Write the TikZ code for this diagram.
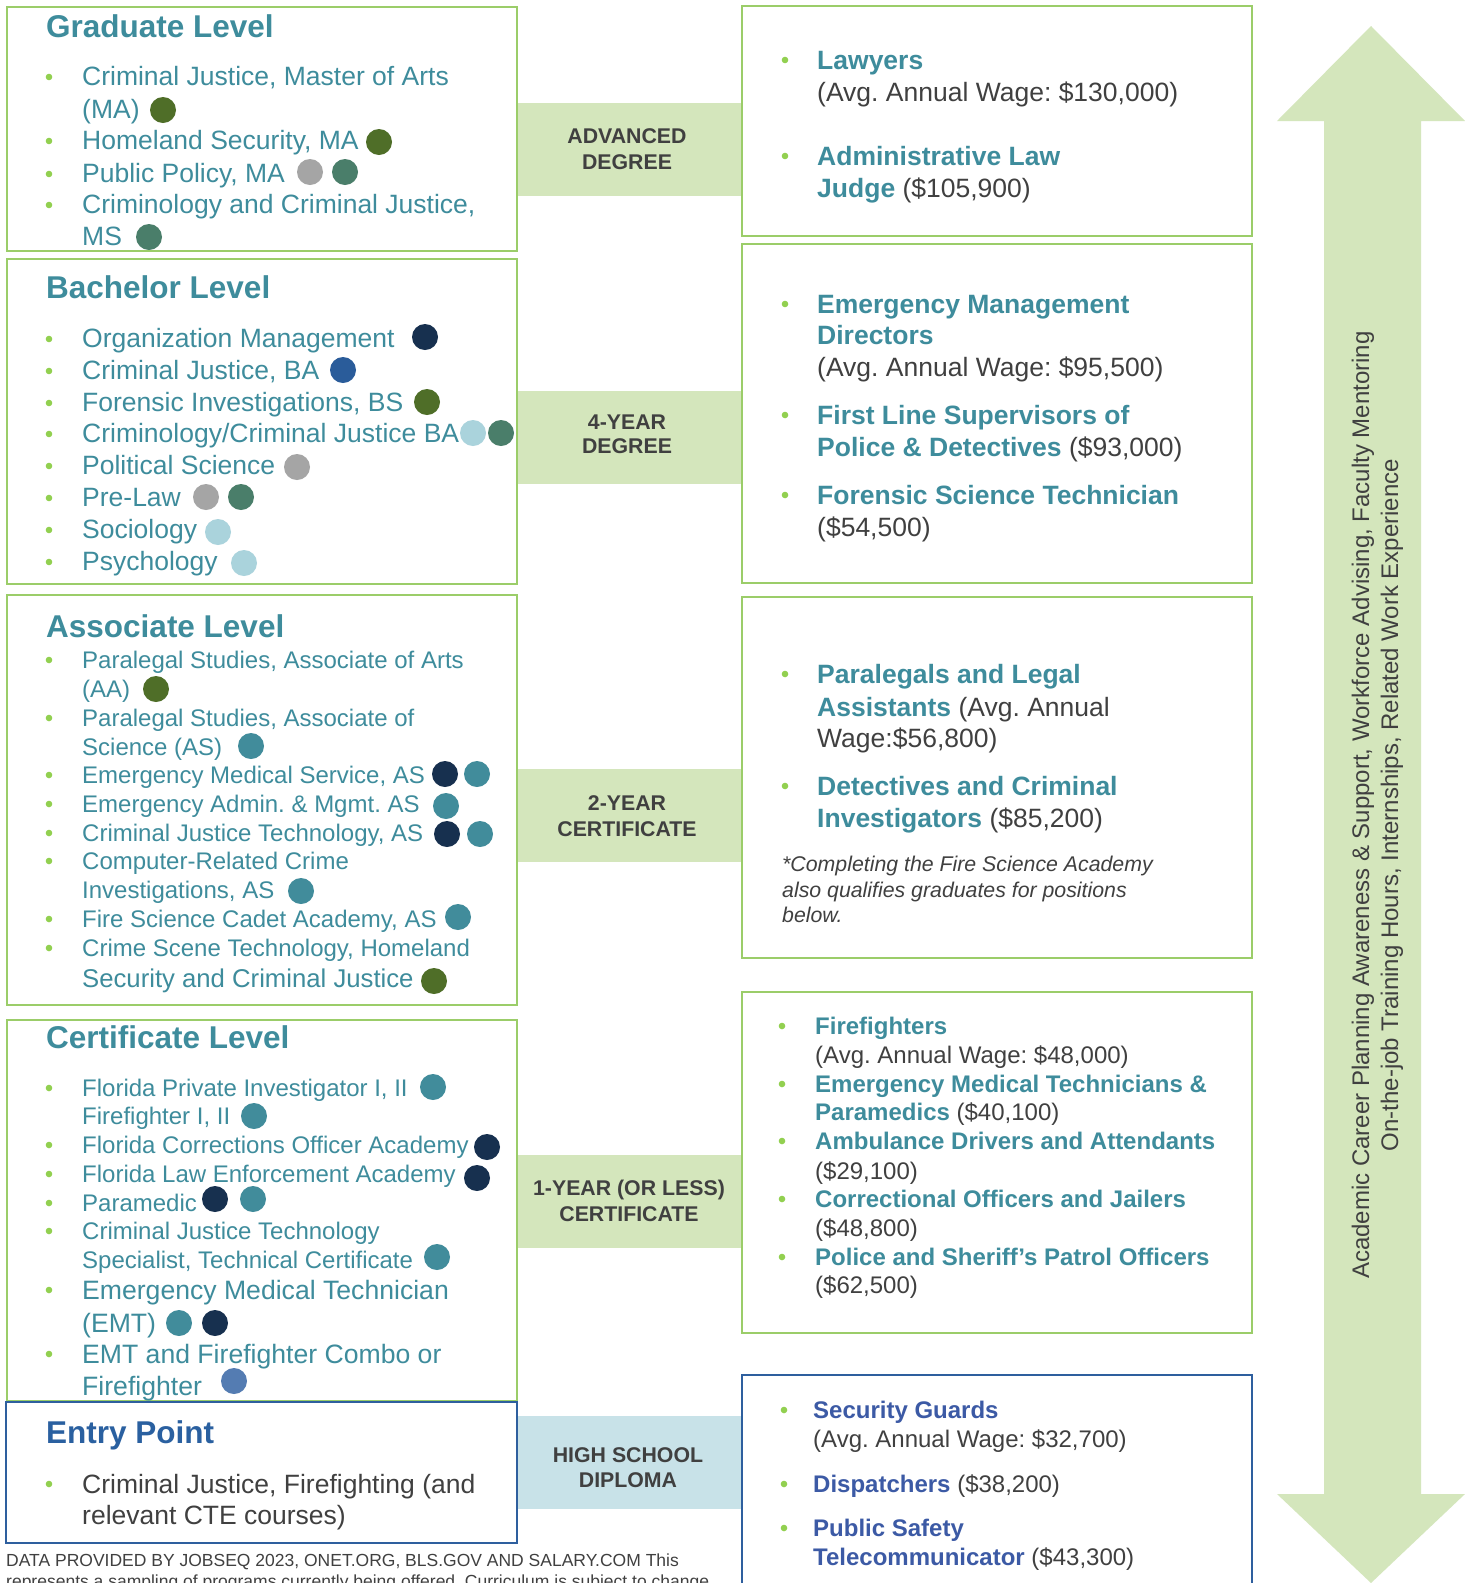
\documentclass[tikz,border=0pt]{standalone}
\usepackage{fontspec}
\setmainfont{Liberation Sans}
\frenchspacing
\definecolor{tealc}{RGB}{62,140,156}
\definecolor{boxgreen}{RGB}{155,205,105}
\definecolor{bulgreen}{RGB}{146,208,80}
\definecolor{bandgreen}{RGB}{212,230,188}
\definecolor{bandblue}{RGB}{200,226,232}
\definecolor{boxblue}{RGB}{46,95,158}
\definecolor{entryblue}{RGB}{42,96,160}
\definecolor{sgblue}{RGB}{60,90,165}
\definecolor{dgray}{RGB}{64,64,64}
\definecolor{dolive}{RGB}{79,110,40}
\definecolor{dgrey}{RGB}{165,165,165}
\definecolor{dtgreen}{RGB}{74,126,106}
\definecolor{dnavy}{RGB}{23,48,79}
\definecolor{dblue}{RGB}{42,92,154}
\definecolor{dlblue}{RGB}{170,211,220}
\definecolor{dteal}{RGB}{65,140,155}
\definecolor{dmblue}{RGB}{84,124,178}
\newcommand\fsz[1]{\fontsize{#1}{#1}\selectfont\frenchspacing}
\newcounter{tn}
\newcommand\pline[4]{\stepcounter{tn}\node[#3] (t\arabic{tn}) at (#1,#2) {#4};}
\newcommand\pbul[2]{\fill[bulgreen] (#1,#2) circle (3.3pt);}
\newcommand\pdot[3]{\fill[#1] (#2,#3) circle (13pt);}
\newcommand\tb[1]{{\bfseries\color{tealc}#1}}
\newcommand\bb[1]{{\bfseries\color{sgblue}#1}}
\begin{document}
\begin{tikzpicture}[x=1pt,y=-1pt,
  gbox/.style={draw=boxgreen,line width=2pt,fill=white,anchor=north west,inner sep=0pt,outer sep=0pt},
  bbox/.style={draw=boxblue,line width=2pt,fill=white,anchor=north west,inner sep=0pt,outer sep=0pt},
  bandg/.style={fill=bandgreen,anchor=north west,inner sep=0pt,outer sep=0pt,minimum width=226pt,minimum height=93pt},
  bandb/.style={fill=bandblue,anchor=north west,inner sep=0pt,outer sep=0pt,minimum width=226pt,minimum height=93pt},
  ttl/.style={anchor=base west,inner sep=0pt,text=tealc,font=\bfseries\fsz{31.5}},
  lt/.style={anchor=base west,inner sep=0pt,text=tealc,font=\fsz{26.5}},
  ls/.style={anchor=base west,inner sep=0pt,text=tealc,font=\fsz{24}},
  rt/.style={anchor=base west,inner sep=0pt,text=dgray,font=\fsz{26.5}},
  rs/.style={anchor=base west,inner sep=0pt,text=dgray,font=\fsz{24}},
  note/.style={anchor=base west,inner sep=0pt,text=dgray,font=\itshape\fsz{21.3}},
  blab/.style={anchor=base,inner sep=0pt,text=dgray,font=\bfseries\fsz{21.3}},
  foot/.style={anchor=base west,inner sep=0pt,text=dgray,font=\fsz{17.5}},
  side/.style={anchor=base,inner sep=0pt,text=dgray,font=\fsz{24},rotate=90}
]
\clip (0,0) rectangle (1465,1583);
\fill[white] (0,0) rectangle (1465,1583);
% arrow
\fill[bandgreen] (1371,26) -- (1465,121) -- (1421,121) -- (1421,1494) -- (1465,1494)
  -- (1371,1583) -- (1277,1494) -- (1324,1494) -- (1324,121) -- (1277,121) -- cycle;
\pline{1369}{805}{side}{Academic Career Planning Awareness \& Support, Workforce Advising, Faculty Mentoring}
\pline{1398}{805}{side}{On-the-job Training Hours, Internships, Related Work Experience}
% bands
\node[bandg] (bandA) at (516,103) {};
\node[bandg] (bandB) at (516,391) {};
\node[bandg] (bandC) at (516,769) {};
\node[bandg] (bandD) at (516,1155) {};
\node[bandb] (bandE) at (516,1416) {};
% left boxes
\node[gbox,minimum width=510pt,minimum height=244pt] (grad) at (7,7) {};
\node[gbox,minimum width=510pt,minimum height=325pt] (bach) at (7,259) {};
\node[gbox,minimum width=510pt,minimum height=410pt] (asso) at (7,595) {};
\node[gbox,minimum width=510pt,minimum height=381pt] (cert) at (7,1020) {};
% right boxes
\node[gbox,minimum width=510pt,minimum height=230pt] (r1) at (742,6) {};
\node[gbox,minimum width=510pt,minimum height=339pt] (r2) at (742,244) {};
\node[gbox,minimum width=510pt,minimum height=361pt] (r3) at (742,597) {};
\node[gbox,minimum width=510pt,minimum height=341pt] (r4) at (742,992) {};
\node[bbox,minimum width=510pt,minimum height=240pt] (r5) at (742,1375) {};
% band labels
\pline{627}{143}{blab}{ADVANCED}
\pline{627}{169}{blab}{DEGREE}
\pline{627}{429}{blab}{4-YEAR}
\pline{627}{453}{blab}{DEGREE}
\pline{627}{810}{blab}{2-YEAR}
\pline{627}{836}{blab}{CERTIFICATE}
\pline{629}{1195}{blab}{1-YEAR (OR LESS)}
\pline{629}{1221}{blab}{CERTIFICATE}
\pline{628}{1462}{blab}{HIGH SCHOOL}
\pline{628}{1487}{blab}{DIPLOMA}
% Graduate
\pline{46}{37}{ttl}{Graduate Level}
\pbul{49}{77}\pline{82}{85}{lt}{Criminal Justice, Master of Arts}
\pline{82}{118}{lt}{(MA)}\pdot{dolive}{163}{110}
\pbul{49}{141}\pline{82}{149}{lt}{Homeland Security, MA}\pdot{dolive}{379}{142}
\pbul{49}{174}\pline{82}{182}{lt}{Public Policy, MA}\pdot{dgrey}{310}{172}\pdot{dtgreen}{345}{172}
\pbul{49}{205}\pline{82}{213}{lt}{Criminology and Criminal Justice,}
\pline{82}{245}{lt}{MS}\pdot{dtgreen}{149}{237}
% Bachelor
\pline{46}{298}{ttl}{Bachelor Level}
\pbul{49}{339}\pline{82}{347}{lt}{Organization Management}\pdot{dnavy}{425}{337}
\pbul{49}{371}\pline{82}{379}{lt}{Criminal Justice, BA}\pdot{dblue}{343}{370}
\pbul{49}{403}\pline{82}{411}{lt}{Forensic Investigations, BS}\pdot{dolive}{427}{402}
\pbul{49}{434}\pline{82}{442}{lt}{Criminology/Criminal Justice BA}\pdot{dlblue}{473}{433}\pdot{dtgreen}{501}{433}
\pbul{49}{466}\pline{82}{474}{lt}{Political Science}\pdot{dgrey}{297}{467}
\pbul{49}{498}\pline{82}{506}{lt}{Pre-Law}\pdot{dgrey}{206}{497}\pdot{dtgreen}{241}{497}
\pbul{49}{530}\pline{82}{538}{lt}{Sociology}\pdot{dlblue}{218}{532}
\pbul{49}{562}\pline{82}{570}{lt}{Psychology}\pdot{dlblue}{244}{563}
% Associate
\pline{46}{637}{ttl}{Associate Level}
\pbul{49}{660}\pline{82}{668}{ls}{Paralegal Studies, Associate of Arts}
\pline{82}{697}{ls}{(AA)}\pdot{dolive}{156}{689}
\pbul{49}{718}\pline{82}{726}{ls}{Paralegal Studies, Associate of}
\pline{82}{755}{ls}{Science (AS)}\pdot{dteal}{251}{746}
\pbul{49}{775}\pline{82}{783}{ls}{Emergency Medical Service, AS}\pdot{dnavy}{445}{774}\pdot{dteal}{477}{774}
\pbul{49}{804}\pline{82}{812}{ls}{Emergency Admin. \& Mgmt. AS}\pdot{dteal}{446}{806}
\pbul{49}{833}\pline{82}{841}{ls}{Criminal Justice Technology, AS}\pdot{dnavy}{447}{834}\pdot{dteal}{480}{834}
\pbul{49}{861}\pline{82}{869}{ls}{Computer-Related Crime}
\pline{82}{898}{ls}{Investigations, AS}\pdot{dteal}{301}{891}
\pbul{49}{919}\pline{82}{927}{ls}{Fire Science Cadet Academy, AS}\pdot{dteal}{458}{917}
\pbul{49}{948}\pline{82}{956}{ls}{Crime Scene Technology, Homeland}
\pline{82}{987}{ls,font=\fsz{25.7}}{Security and Criminal Justice}\pdot{dolive}{434}{981}
% Certificate
\pline{46}{1048}{ttl}{Certificate Level}
\pbul{49}{1088}\pline{82}{1096}{ls}{Florida Private Investigator I, II}\pdot{dteal}{433}{1087}
\pline{82}{1124}{ls}{Firefighter I, II}\pdot{dteal}{254}{1116}
\pbul{49}{1145}\pline{82}{1153}{ls}{Florida Corrections Officer Academy}\pdot{dnavy}{487}{1147}
\pbul{49}{1174}\pline{82}{1182}{ls}{Florida Law Enforcement Academy}\pdot{dnavy}{477}{1178}
\pbul{49}{1203}\pline{82}{1211}{ls}{Paramedic}\pdot{dnavy}{215}{1199}\pdot{dteal}{253}{1199}
\pbul{49}{1231}\pline{82}{1239}{ls}{Criminal Justice Technology}
\pline{82}{1268}{ls}{Specialist, Technical Certificate}\pdot{dteal}{437}{1257}
\pbul{49}{1290}\pline{82}{1299}{ls,font=\fsz{26.6}}{Emergency Medical Technician}
\pline{82}{1332}{ls,font=\fsz{26.6}}{(EMT)}\pdot{dteal}{179}{1323}\pdot{dnavy}{215}{1323}
\pbul{49}{1354}\pline{82}{1363}{ls,font=\fsz{26.6}}{EMT and Firefighter Combo or}
\pline{82}{1395}{ls,font=\fsz{26.6}}{Firefighter}\pdot{dmblue}{234}{1381}
% Entry
\node[bbox,minimum width=511pt,minimum height=141pt] (entry) at (6,1402) {};
\pline{46}{1443}{ttl,text=entryblue}{Entry Point}
\pbul{49}{1484}\pline{82}{1493}{rt}{Criminal Justice, Firefighting (and}
\pline{82}{1524}{rt}{relevant CTE courses)}
% Right box 1
\pbul{785}{60}\pline{817}{69}{rt}{\tb{Lawyers}}
\pline{817}{101}{rt}{(Avg. Annual Wage: \$130,000)}
\pbul{785}{156}\pline{817}{165}{rt}{\tb{Administrative Law}}
\pline{817}{197}{rt}{\tb{Judge} (\$105,900)}
% Right box 2
\pbul{785}{304}\pline{817}{313}{rt}{\tb{Emergency Management}}
\pline{817}{344}{rt}{\tb{Directors}}
\pline{817}{376}{rt}{(Avg. Annual Wage: \$95,500)}
\pbul{785}{415}\pline{817}{424}{rt}{\tb{First Line Supervisors of}}
\pline{817}{456}{rt}{\tb{Police \& Detectives} (\$93,000)}
\pbul{785}{495}\pline{817}{504}{rt}{\tb{Forensic Science Technician}}
\pline{817}{536}{rt}{(\$54,500)}
% Right box 3
\pbul{785}{674}\pline{817}{683}{rt}{\tb{Paralegals and Legal}}
\pline{817}{716}{rt}{\tb{Assistants} (Avg. Annual}
\pline{817}{747}{rt}{Wage:\$56,800)}
\pbul{785}{786}\pline{817}{795}{rt}{\tb{Detectives and Criminal}}
\pline{817}{827}{rt}{\tb{Investigators} (\$85,200)}
\pline{782}{871}{note}{*Completing the Fire Science Academy}
\pline{782}{897}{note}{also qualifies graduates for positions}
\pline{782}{922}{note}{below.}
% Right box 4
\pbul{782}{1026}\pline{815}{1034}{rs}{\tb{Firefighters}}
\pline{815}{1063}{rs}{(Avg. Annual Wage: \$48,000)}
\pbul{782}{1084}\pline{815}{1092}{rs}{\tb{Emergency Medical Technicians \&}}
\pline{815}{1120}{rs}{\tb{Paramedics} (\$40,100)}
\pbul{782}{1141}\pline{815}{1149}{rs}{\tb{Ambulance Drivers and Attendants}}
\pline{815}{1179}{rs}{(\$29,100)}
\pbul{782}{1199}\pline{815}{1207}{rs}{\tb{Correctional Officers and Jailers}}
\pline{815}{1236}{rs}{(\$48,800)}
\pbul{782}{1257}\pline{815}{1265}{rs}{\tb{Police and Sheriff’s Patrol Officers}}
\pline{815}{1293}{rs}{(\$62,500)}
% Right box 5
\pbul{784}{1410}\pline{813}{1418}{rs}{\bb{Security Guards}}
\pline{813}{1447}{rs}{(Avg. Annual Wage: \$32,700)}
\pbul{784}{1484}\pline{813}{1492}{rs}{\bb{Dispatchers} (\$38,200)}
\pbul{784}{1528}\pline{813}{1536}{rs}{\bb{Public Safety}}
\pline{813}{1565}{rs}{\bb{Telecommunicator} (\$43,300)}
% footer
\pline{6}{1566}{foot}{DATA PROVIDED BY JOBSEQ 2023, ONET.ORG, BLS.GOV AND SALARY.COM This}
\pline{6}{1587}{foot}{represents a sampling of programs currently being offered. Curriculum is subject to change.}
\end{tikzpicture}
\end{document}
